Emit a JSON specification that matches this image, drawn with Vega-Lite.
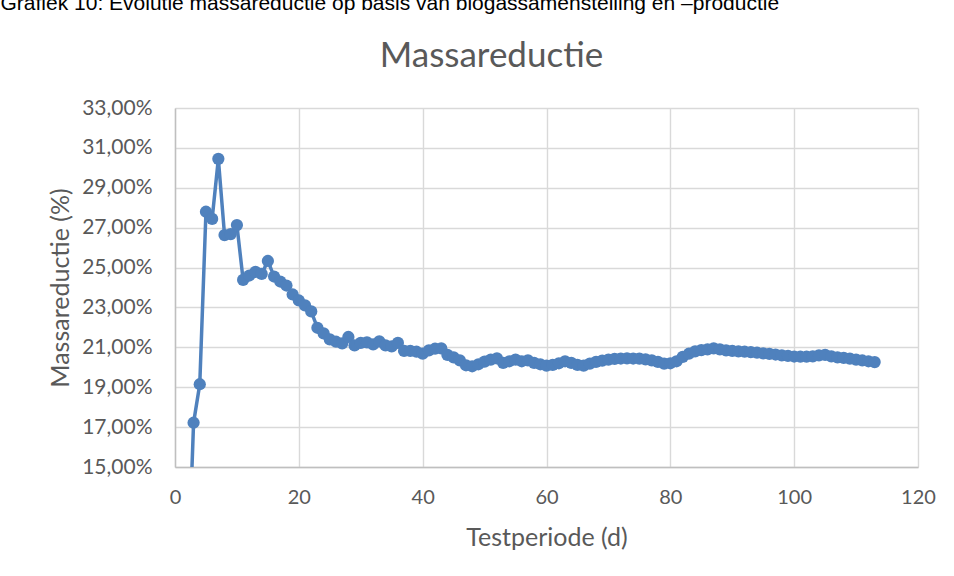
{
  "$schema": "https://vega.github.io/schema/vega-lite/v6.json",
  "autosize": "none",
  "width": 743,
  "height": 359,
  "padding": {"left": 175, "top": 108, "right": 36, "bottom": 109},
  "background": "white",
  "config": {
    "locale": {"number": {"decimal": ",", "thousands": ".", "grouping": [3], "currency": ["€", ""]}},
    "view": {"stroke": null},
    "axis": {
      "labelFont": "Lato",
      "titleFont": "Lato",
      "labelColor": "#595959",
      "titleColor": "#595959",
      "titleFontWeight": "normal",
      "gridColor": "#d9d9d9",
      "gridWidth": 1.4,
      "domainColor": "#bfbfbf",
      "domainWidth": 1.4,
      "ticks": false,
      "labelFlush": false,
      "labelOverlap": false
    }
  },
  "data": {
    "values": [
      {"dag": 2, "reductie": 0.085},
      {"dag": 3, "reductie": 0.1722},
      {"dag": 4, "reductie": 0.1915},
      {"dag": 5, "reductie": 0.278},
      {"dag": 6, "reductie": 0.2744},
      {"dag": 7, "reductie": 0.3045},
      {"dag": 8, "reductie": 0.2663},
      {"dag": 9, "reductie": 0.2668},
      {"dag": 10, "reductie": 0.2713},
      {"dag": 11, "reductie": 0.2438},
      {"dag": 12, "reductie": 0.246},
      {"dag": 13, "reductie": 0.2478},
      {"dag": 14, "reductie": 0.2468},
      {"dag": 15, "reductie": 0.2533},
      {"dag": 16, "reductie": 0.2455},
      {"dag": 17, "reductie": 0.243},
      {"dag": 18, "reductie": 0.241},
      {"dag": 19, "reductie": 0.2365},
      {"dag": 20, "reductie": 0.2335},
      {"dag": 21, "reductie": 0.231},
      {"dag": 22, "reductie": 0.228},
      {"dag": 23, "reductie": 0.2198},
      {"dag": 24, "reductie": 0.217},
      {"dag": 25, "reductie": 0.214},
      {"dag": 26, "reductie": 0.2128},
      {"dag": 27, "reductie": 0.212},
      {"dag": 28, "reductie": 0.2152},
      {"dag": 29, "reductie": 0.211},
      {"dag": 30, "reductie": 0.2122},
      {"dag": 31, "reductie": 0.2125},
      {"dag": 32, "reductie": 0.2115},
      {"dag": 33, "reductie": 0.213},
      {"dag": 34, "reductie": 0.211},
      {"dag": 35, "reductie": 0.2105},
      {"dag": 36, "reductie": 0.2122},
      {"dag": 37, "reductie": 0.2082},
      {"dag": 38, "reductie": 0.2082},
      {"dag": 39, "reductie": 0.2078},
      {"dag": 40, "reductie": 0.2068},
      {"dag": 41, "reductie": 0.2085},
      {"dag": 42, "reductie": 0.2093},
      {"dag": 43, "reductie": 0.2095},
      {"dag": 44, "reductie": 0.2062},
      {"dag": 45, "reductie": 0.205},
      {"dag": 46, "reductie": 0.2035},
      {"dag": 47, "reductie": 0.201},
      {"dag": 48, "reductie": 0.2005},
      {"dag": 49, "reductie": 0.2015},
      {"dag": 50, "reductie": 0.2028},
      {"dag": 51, "reductie": 0.2038},
      {"dag": 52, "reductie": 0.2045},
      {"dag": 53, "reductie": 0.2022},
      {"dag": 54, "reductie": 0.203},
      {"dag": 55, "reductie": 0.2038},
      {"dag": 56, "reductie": 0.203},
      {"dag": 57, "reductie": 0.2035},
      {"dag": 58, "reductie": 0.2022},
      {"dag": 59, "reductie": 0.2015},
      {"dag": 60, "reductie": 0.2008},
      {"dag": 61, "reductie": 0.2012},
      {"dag": 62, "reductie": 0.202},
      {"dag": 63, "reductie": 0.203},
      {"dag": 64, "reductie": 0.2022},
      {"dag": 65, "reductie": 0.2012},
      {"dag": 66, "reductie": 0.2008},
      {"dag": 67, "reductie": 0.2018},
      {"dag": 68, "reductie": 0.2027},
      {"dag": 69, "reductie": 0.2033},
      {"dag": 70, "reductie": 0.2038},
      {"dag": 71, "reductie": 0.2042},
      {"dag": 72, "reductie": 0.2044},
      {"dag": 73, "reductie": 0.2045},
      {"dag": 74, "reductie": 0.2044},
      {"dag": 75, "reductie": 0.2043},
      {"dag": 76, "reductie": 0.204},
      {"dag": 77, "reductie": 0.2035},
      {"dag": 78, "reductie": 0.2027},
      {"dag": 79, "reductie": 0.2018},
      {"dag": 80, "reductie": 0.202},
      {"dag": 81, "reductie": 0.203},
      {"dag": 82, "reductie": 0.2052},
      {"dag": 83, "reductie": 0.2068},
      {"dag": 84, "reductie": 0.208},
      {"dag": 85, "reductie": 0.2086},
      {"dag": 86, "reductie": 0.209},
      {"dag": 87, "reductie": 0.2095},
      {"dag": 88, "reductie": 0.209},
      {"dag": 89, "reductie": 0.2085},
      {"dag": 90, "reductie": 0.2082},
      {"dag": 91, "reductie": 0.208},
      {"dag": 92, "reductie": 0.2078},
      {"dag": 93, "reductie": 0.2076},
      {"dag": 94, "reductie": 0.2073},
      {"dag": 95, "reductie": 0.207},
      {"dag": 96, "reductie": 0.2067},
      {"dag": 97, "reductie": 0.2064},
      {"dag": 98, "reductie": 0.206},
      {"dag": 99, "reductie": 0.2057},
      {"dag": 100, "reductie": 0.2054},
      {"dag": 101, "reductie": 0.2053},
      {"dag": 102, "reductie": 0.2053},
      {"dag": 103, "reductie": 0.2055},
      {"dag": 104, "reductie": 0.206},
      {"dag": 105, "reductie": 0.2062},
      {"dag": 106, "reductie": 0.2055},
      {"dag": 107, "reductie": 0.205},
      {"dag": 108, "reductie": 0.2047},
      {"dag": 109, "reductie": 0.2043},
      {"dag": 110, "reductie": 0.2038},
      {"dag": 111, "reductie": 0.2034},
      {"dag": 112, "reductie": 0.203},
      {"dag": 113, "reductie": 0.2026}
    ]
  },
  "resolve": {"axis": {"x": "independent", "y": "independent"}},
  "layer": [
    {
      "mark": {"type": "line", "color": "#4f81bd", "strokeWidth": 3.5, "clip": true},
      "encoding": {
        "x": {
          "field": "dag", "type": "quantitative",
          "scale": {"domain": [0, 120], "nice": false},
          "axis": {
            "orient": "bottom",
            "values": [0, 20, 40, 60, 80, 100, 120],
            "labelFontSize": 20,
            "labelPadding": 20,
            "grid": true,
            "title": "Testperiode (d)",
            "titleFontSize": 25,
            "titleX": 371.5,
            "titleY": 70,
            "titleBaseline": "middle"
          }
        },
        "y": {
          "field": "reductie", "type": "quantitative",
          "scale": {"domain": [0.15, 0.33], "nice": false, "zero": false},
          "axis": {
            "orient": "left",
            "values": [0.15, 0.17, 0.19, 0.21, 0.23, 0.25, 0.27, 0.29, 0.31, 0.33],
            "format": ".2%",
            "labelFontSize": 21,
            "labelPadding": 23,
            "grid": true,
            "title": "Massareductie (%)",
            "titleFontSize": 25,
            "titleX": -115,
            "titleY": 179.5,
            "titleBaseline": "middle",
            "titleAlign": "center",
            "titleAngle": -90
          }
        }
      }
    },
    {
      "mark": {"type": "point", "filled": true, "opacity": 1, "color": "#4f81bd", "size": 150, "clip": true},
      "encoding": {
        "x": {
          "field": "dag", "type": "quantitative",
          "axis": {
            "orient": "top",
            "labels": false,
            "domain": false,
            "grid": false,
            "title": "Massareductie",
            "titleFontSize": 35,
            "titleX": 316,
            "titleY": -53,
            "titleBaseline": "middle",
            "titleAlign": "center"
          }
        },
        "y": {
          "field": "reductie", "type": "quantitative",
          "axis": {
            "orient": "right",
            "labels": false,
            "domain": false,
            "grid": false,
            "title": "Grafiek 10: Evolutie massareductie op basis van biogassamenstelling en –productie",
            "titleFont": "Liberation Sans",
            "titleColor": "#000000",
            "titleFontSize": 21,
            "titleAngle": 0,
            "titleAlign": "left",
            "titleBaseline": "alphabetic",
            "titleX": -918,
            "titleY": -99
          }
        }
      }
    }
  ]
}
